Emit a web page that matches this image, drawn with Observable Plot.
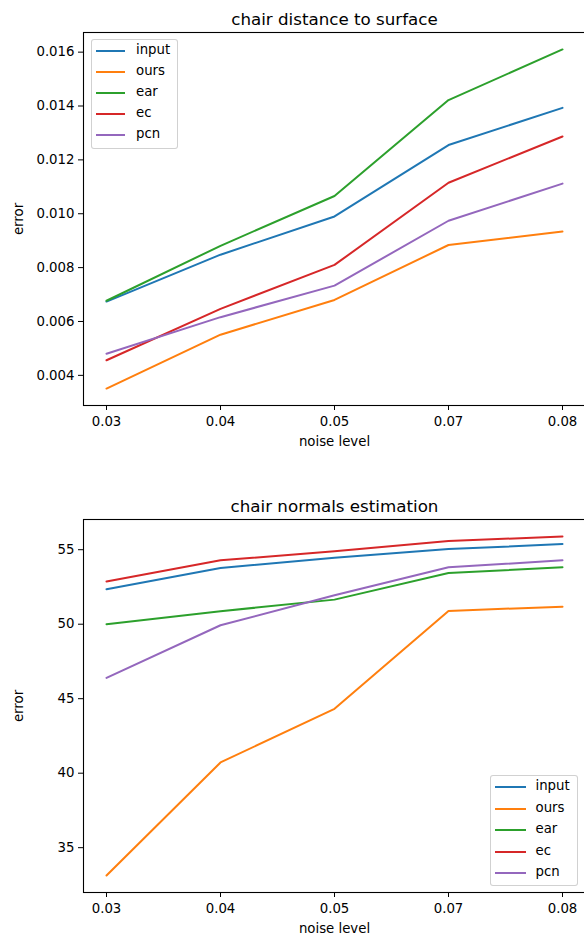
<!DOCTYPE html>
<html>
<head>
<meta charset="utf-8">
<script src="https://cdn.jsdelivr.net/npm/d3@7"></script>
<script src="https://cdn.jsdelivr.net/npm/@observablehq/plot@0.6"></script>
<style>
  html, body { margin: 0; padding: 0; background: #fff; overflow: hidden; }
  #page { position: relative; width: 584px; height: 938px; overflow: hidden; background: #fff; font-family: "DejaVu Sans", sans-serif; }
  .panel { position: absolute; left: 0; width: 602px; }
  .legend { position: absolute; box-sizing: border-box; border: 1px solid rgba(204,204,204,0.9); border-radius: 3px; background: rgba(255,255,255,0.8); font-family: "DejaVu Sans", sans-serif; font-size: 13.3px; color: #000; }
  .legend .sw { position: absolute; height: 2px; }
  .legend .lb { position: absolute; line-height: 16px; white-space: nowrap; }
</style>
</head>
<body>
<div id="page"></div>
<script>
// ---- data ----
const noiseLevels = ["0.03", "0.04", "0.05", "0.07", "0.08"];
const seriesNames = ["input", "ours", "ear", "ec", "pcn"];
const seriesColors = ["#1f77b4", "#ff7f0e", "#2ca02c", "#d62728", "#9467bd"];

// chair distance to surface
const distInput = [0.00674, 0.00848, 0.00990, 0.01255, 0.01393];
const distOurs  = [0.00351, 0.00551, 0.00680, 0.00884, 0.00934];
const distEar   = [0.00677, 0.00881, 0.01066, 0.01422, 0.01610];
const distEc    = [0.00456, 0.00647, 0.00810, 0.01115, 0.01287];
const distPcn   = [0.00480, 0.00616, 0.00733, 0.00974, 0.01112];
const distTicks = [0.004, 0.006, 0.008, 0.010, 0.012, 0.014, 0.016];

// chair normals estimation
const normInput = [52.34, 53.77, 54.46, 55.04, 55.38];
const normOurs  = [33.13, 40.72, 44.32, 50.89, 51.18];
const normEar   = [50.00, 50.87, 51.65, 53.44, 53.82];
const normEc    = [52.86, 54.29, 54.89, 55.58, 55.89];
const normPcn   = [46.40, 49.93, 51.94, 53.82, 54.29];
const normTicks = [35, 40, 45, 50, 55];

const titles = ["chair distance to surface", "chair normals estimation"];
const xLabel = "noise level";
const yLabel = "error";

function tidy(arrays) {
  const rows = [];
  seriesNames.forEach((s, i) => {
    arrays[i].forEach((v, j) => rows.push({series: s, noise: noiseLevels[j], value: v}));
  });
  return rows;
}

function padded(rows) {
  const [lo, hi] = d3.extent(rows, d => d.value);
  const m = (hi - lo) * 0.05;
  return [lo - m, hi + m];
}

function panel({rows, ticks, tickFormat, title, height, marginTop, marginBottom}) {
  return Plot.plot({
    width: 602,
    height,
    marginLeft: 83,
    marginRight: 17,
    marginTop,
    marginBottom,
    style: {fontFamily: "'DejaVu Sans', sans-serif", fontSize: "13.3px", color: "#000", background: "transparent", overflow: "visible"},
    x: {type: "point", domain: noiseLevels, padding: 0.2},
    y: {domain: padded(rows)},
    color: {domain: seriesNames, range: seriesColors},
    marks: [
      Plot.lineY(rows, {x: "noise", y: "value", z: "series", stroke: "series", strokeWidth: 2}),
      Plot.frame({stroke: "#000", strokeWidth: 1.1}),
      Plot.axisX({tickSize: 5, tickPadding: 6, label: xLabel, labelAnchor: "center", labelArrow: "none", labelOffset: 40}),
      Plot.axisY({ticks, tickFormat, tickSize: 5, tickPadding: 4, label: yLabel, labelAnchor: "center", labelArrow: "none", labelOffset: 70}),
      Plot.text([title], {frameAnchor: "top", dy: -8, lineAnchor: "bottom", fontSize: 16.7, fill: "#000"})
    ]
  });
}

function legend(opts) {
  const box = document.createElement("div");
  box.className = "legend";
  Object.assign(box.style, {left: opts.left + "px", top: opts.top + "px", width: opts.width + "px", height: opts.height + "px"});
  seriesNames.forEach((s, i) => {
    const cy = opts.firstRow + i * opts.rowStep;
    const sw = document.createElement("div");
    sw.className = "sw";
    Object.assign(sw.style, {left: opts.swLeft + "px", width: opts.swWidth + "px", top: (cy - 1) + "px", background: seriesColors[i]});
    const lb = document.createElement("div");
    lb.className = "lb";
    lb.textContent = s;
    Object.assign(lb.style, {left: opts.textLeft + "px", top: (cy - 9) + "px"});
    box.appendChild(sw);
    box.appendChild(lb);
  });
  return box;
}

const page = document.getElementById("page");

const top1 = document.createElement("div");
top1.className = "panel";
top1.style.top = "0px";
top1.appendChild(panel({
  rows: tidy([distInput, distOurs, distEar, distEc, distPcn]),
  ticks: distTicks, tickFormat: d3.format(".3f"), title: titles[0],
  height: 470, marginTop: 32, marginBottom: 65
}));
page.appendChild(top1);

const bot = document.createElement("div");
bot.className = "panel";
bot.style.top = "470px";
bot.appendChild(panel({
  rows: tidy([normInput, normOurs, normEar, normEc, normPcn]),
  ticks: normTicks, tickFormat: d3.format("d"), title: titles[1],
  height: 468, marginTop: 49, marginBottom: 46
}));
page.appendChild(bot);

page.appendChild(legend({left: 90.5, top: 39, width: 87, height: 110, firstRow: 11, rowStep: 21, swLeft: 4, swWidth: 29, textLeft: 44.5}));
page.appendChild(legend({left: 490, top: 775, width: 88, height: 111, firstRow: 11, rowStep: 21.5, swLeft: 4, swWidth: 31, textLeft: 44.5}));
</script>
</body>
</html>
